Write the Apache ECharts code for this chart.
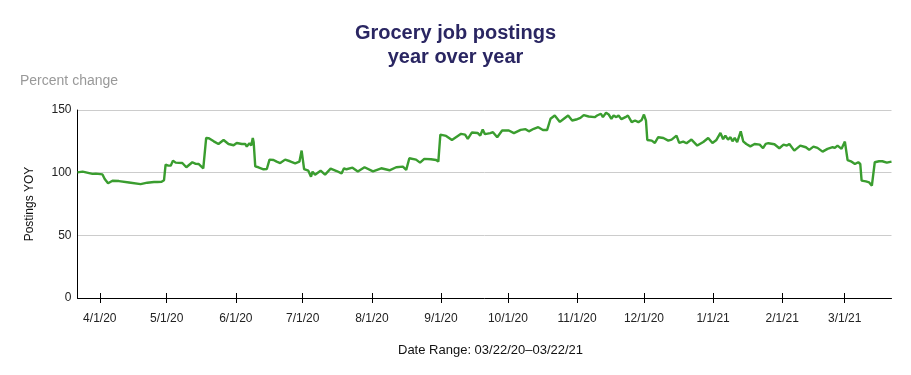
<!DOCTYPE html>
<html>
<head>
<meta charset="utf-8">
<script src="https://cdn.jsdelivr.net/npm/echarts@6/dist/echarts.min.js"></script>
<style>
html,body{margin:0;padding:0;background:#fff;}
#chart{width:911px;height:375px;}
</style>
</head>
<body>
<div id="chart"></div>
<script>
// Days since 2020-03-22
var days = [0,2.3,6.7,8.2,11.2,12.2,13.7,15.7,18.6,23.1,28.3,31.3,34.3,35.1,35.8,36.5,37.7,38.8,39.5,40.7,
  41.8,42.8,44.0,47.0,48.8,51.5,53.0,54.4,56.4,57.7,58.9,61.1,63.2,65.5,67.7,70.0,71.4,73.7,75.2,75.9,
  77.1,77.9,78.6,79.0,79.7,81.1,83.4,84.9,86.1,87.9,89.3,90.9,93.1,95.3,97.6,99.5,100.5,101.6,103.5,104.7,
  105.4,106.5,109.0,111.0,113.5,116.2,118.4,119.5,120.6,123.3,125.7,128.7,132.5,136.2,139.9,142.9,145.9,147.4,148.8,151.8,
  153.6,155.5,158.5,160.8,161.8,162.7,165.3,167.9,172.0,173.8,175.0,176.8,179.4,180.6,181.7,182.7,185.1,186.3,188.2,190.4,
  193.4,195.7,198.7,200.9,202.4,204.6,206.6,208.7,210.6,212.1,214.0,216.3,218.1,220.0,221.8,223.6,225.5,227.0,229.2,231.9,
  233.0,233.7,234.7,235.6,237.0,238.2,239.4,240.4,241.6,242.6,243.9,245.7,246.8,248.5,250.0,251.5,253.0,254.0,254.9,255.5,
  257.5,258.9,260.4,262.7,264.9,266.4,268.6,269.8,271.6,273.1,275.3,277.9,280.6,282.8,284.7,286.5,288.3,289.5,290.5,291.7,
  292.8,293.7,294.7,295.8,297.4,298.5,299.9,301.7,303.6,305.9,307.4,308.6,309.8,312.5,314.7,316.6,318.1,319.2,321.4,324.1,
  326.6,328.1,330.0,331.8,334.1,336.3,338.6,339.6,340.8,342.6,344.1,345.3,346.8,348.6,350.1,351.0,351.6,353.5,355.0,356.2,
  357.5,359.4,360.9,362.9,365];
var postingsYoY = [100.2,100.8,99,99.2,98.6,95,91.5,93.6,93.3,92.2,90.9,92,92.5,94,92.5,94,92.8,94,106.4,105.6,
  105.6,109.6,108,107.7,104.3,108.3,107,106.9,103.5,127.7,127.5,125,122.9,126.1,122.9,121.9,123.7,122.9,122.9,120.8,
  123.5,121.6,127.7,124.3,105,104.3,102.7,102.9,110.4,110.1,108.8,107.7,110.4,109.1,107.5,108.8,117.6,102.9,101.6,96.8,
  100.8,98.4,101.6,98.4,103.2,101.3,99.4,103.5,102.7,104,101,104.3,101,103.5,101.9,104.3,104.8,102.2,111.5,110.4,
  108,111,110.7,110.1,108.8,130.4,129.3,126.1,131,130.4,127,132,131.7,129.6,134.4,130.7,131.5,132.3,128.3,133.6,
  133.6,131.5,134.1,134.7,133,135,136.3,134.1,134.1,143,145.6,140.5,143,145.6,141.6,142.4,143.7,145.9,144.8,144.3,
  145.6,144.3,147,144.3,147.8,146.4,143,145.6,144.3,145.6,142.7,144.3,145.6,140.3,141.6,140.3,142.1,146.4,141.6,126.1,
  125.6,123.7,128.3,127.7,125.6,126.4,129.6,123.7,124.8,123.5,126.4,121.6,124.5,127.7,123.7,126.1,131.7,126.7,129.6,126.4,
  128.3,125,127.7,124.3,133,125,122.9,121,122.9,122.4,119.5,122.9,123.5,122.7,119.5,122.4,121.6,122.9,117.6,121.6,
  120.3,118.2,120.8,119.8,116.8,119,120.3,119.8,121.6,119,124.8,110.1,109.1,106.9,108.3,106.9,93.6,93,92.2,89.6,
  108.3,109.1,109.1,108,108.8];
var tickDays = [10,40,71,101,132,163,193,224,254,285,316,344];
var tickLabels = ['4/1/20','5/1/20','6/1/20','7/1/20','8/1/20','9/1/20','10/1/20','11/1/20','12/1/20','1/1/21','2/1/21','3/1/21'];

var seriesData = days.map(function(d,i){return [d, postingsYoY[i]];});
function fmt(v){var i = tickDays.indexOf(Math.round(v)); return i>=0 ? tickLabels[i] : '';}

var chart = echarts.init(document.getElementById('chart'));
var font = 'Liberation Sans, Arial, sans-serif';
chart.setOption({
  animation:false,
  textStyle:{fontFamily:font},
  title:{
    text:'Grocery job postings\nyear over year',
    left:'center', top:16,
    textStyle:{fontSize:20, fontWeight:'bold', color:'#2a2662', lineHeight:24, fontFamily:font}
  },
  graphic:[
    {type:'text', left:20, top:74, style:{text:'Percent change', fontSize:14, fill:'#999', fontFamily:font}},
    {type:'text', left:398, top:344, style:{text:'Date Range: 03/22/20\u201303/22/21', fontSize:13, fill:'#111', fontFamily:font}}
  ],
  grid:{left:77.5, right:19.5, top:110, bottom:77},
  xAxis:[{
    type:'value', min:0, max:365,
    splitLine:{show:false},
    axisLine:{show:true, lineStyle:{color:'#000', width:1}},
    axisTick:{show:true, length:5, lineStyle:{color:'#000'}, customValues:tickDays},
    axisLabel:{show:true, customValues:tickDays, formatter:fmt, color:'#222', fontSize:12, margin:15, fontFamily:font}
  },{
    type:'value', min:0, max:365, position:'bottom',
    splitLine:{show:false},
    axisLine:{show:false},
    axisTick:{show:true, inside:true, length:5, lineStyle:{color:'#000'}, customValues:tickDays},
    axisLabel:{show:false, customValues:tickDays}
  }],
  yAxis:{
    type:'value', min:0, max:150, interval:50,
    name:'Postings YOY', nameLocation:'middle', nameRotate:90, nameGap:42,
    nameTextStyle:{color:'#111', fontSize:12, fontFamily:font},
    axisLine:{show:true, lineStyle:{color:'#000', width:1}},
    axisTick:{show:false},
    splitLine:{lineStyle:{color:'#ccc', width:1}},
    axisLabel:{color:'#222', fontSize:12, margin:6, fontFamily:font}
  },
  series:[{
    type:'line', data:seriesData, showSymbol:false,
    lineStyle:{color:'#3a9d2f', width:2.4},
    itemStyle:{color:'#3a9d2f'}
  }]
});
</script>
</body>
</html>
